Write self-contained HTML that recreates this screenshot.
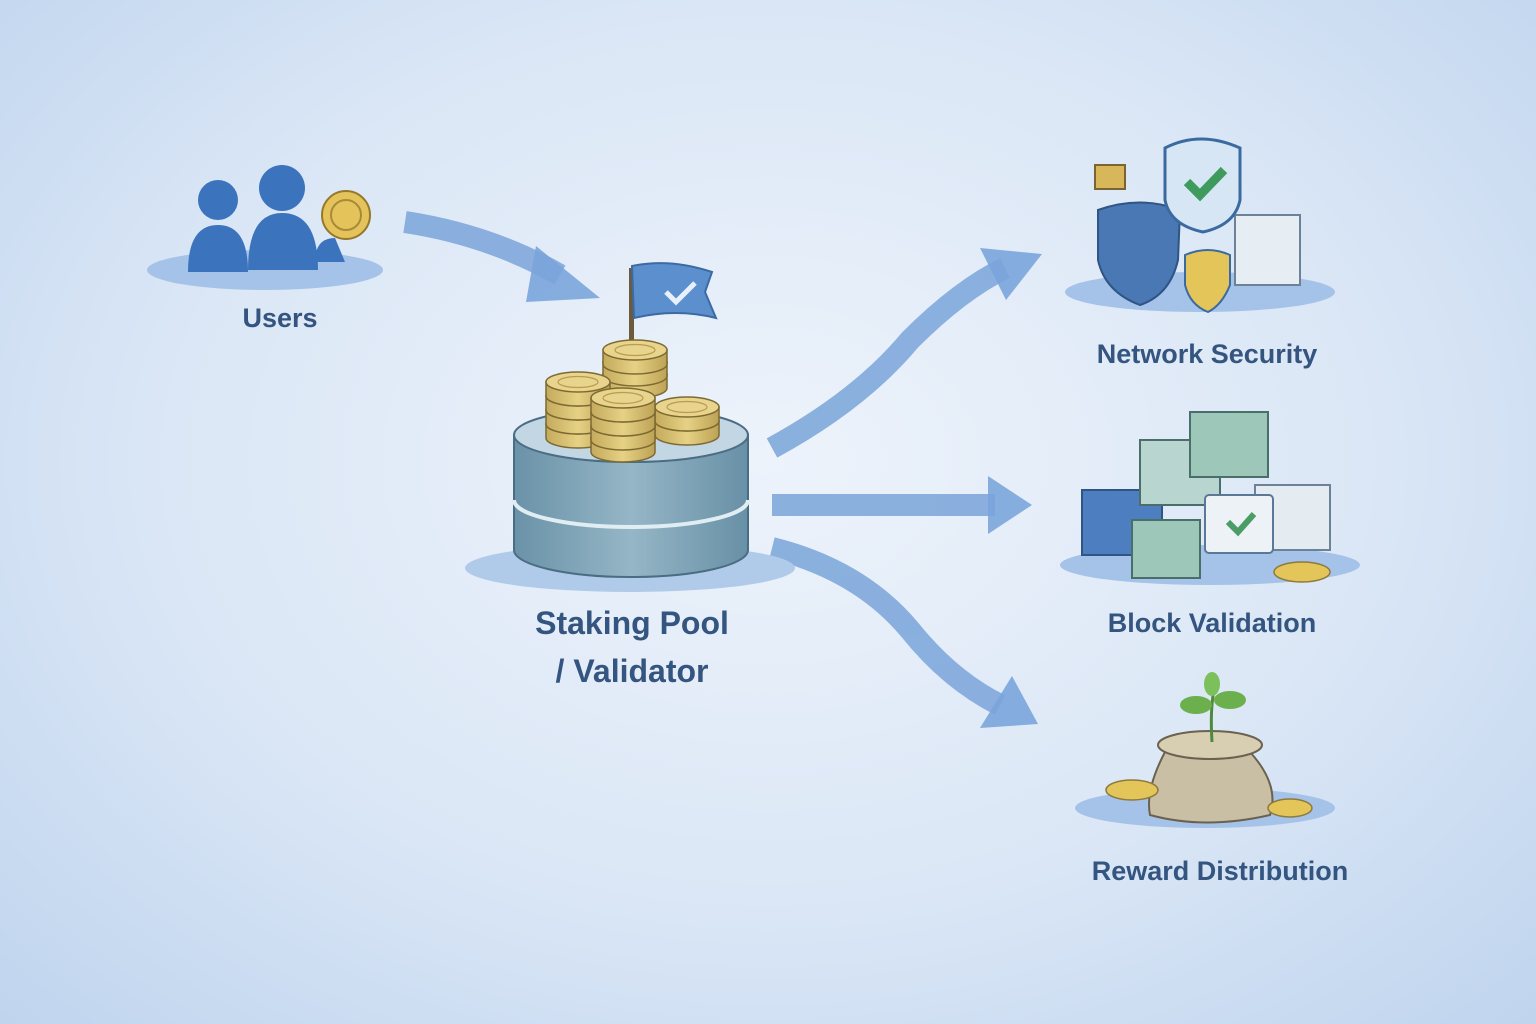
<!DOCTYPE html>
<html><head><meta charset="utf-8"><style>
html,body{margin:0;padding:0;}
body{width:1536px;height:1024px;overflow:hidden;background:radial-gradient(ellipse at 50% 45%,#edf3fb 0%,#dbe7f6 55%,#bfd4ee 100%);font-family:"Liberation Sans",sans-serif;}
svg{position:absolute;left:0;top:0}
</style></head><body>
<svg width="1536" height="1024" viewBox="0 0 1536 1024">
<defs>
<linearGradient id="cyl" x1="0" x2="1"><stop offset="0" stop-color="#6a92a8"/><stop offset="0.5" stop-color="#95b6c6"/><stop offset="1" stop-color="#6890a6"/></linearGradient>
<linearGradient id="coin" x1="0" x2="1"><stop offset="0" stop-color="#c4aa5c"/><stop offset="0.5" stop-color="#e6d184"/><stop offset="1" stop-color="#bda255"/></linearGradient>
<g id="c"><path d="M-32 0 L-32 14 A32 10 0 0 0 32 14 L32 0Z" fill="url(#coin)" stroke="#7d6a32" stroke-width="1.5"/><ellipse cx="0" cy="0" rx="32" ry="10" fill="#e8d48c" stroke="#7d6a32" stroke-width="1.5"/><ellipse cx="0" cy="0" rx="20" ry="5.5" fill="none" stroke="#b89c50" stroke-width="1.2"/></g>
</defs>
<g fill="none" stroke="#7aa5da" stroke-width="22" opacity="0.85">
<path d="M405 222 Q490 235 560 275"/>
<path d="M772 448 Q860 400 910 340 Q960 290 1005 268"/>
<path d="M772 505 L995 505"/>
<path d="M772 548 Q860 570 910 630 Q950 680 1000 705"/>
</g>
<g fill="#7aa5da" opacity="0.9">
<polygon points="536,246 600,298 526,302"/>
<polygon points="980,248 1042,254 1006,300"/>
<polygon points="988,476 1032,505 988,534"/>
<polygon points="980,728 1038,724 1012,676"/>
</g>
<ellipse cx="265" cy="270" rx="118" ry="20" fill="#a5c3e8"/>
<g fill="#3b73bd">
<circle cx="218" cy="200" r="20"/><path d="M188 272 Q188 225 218 225 Q248 225 248 272Z"/>
<circle cx="282" cy="188" r="23"/><path d="M248 270 Q248 213 282 213 Q318 213 318 270Z"/>
<path d="M315 262 Q315 238 335 238 L345 262Z"/>
</g>
<circle cx="346" cy="215" r="24" fill="#e3c35a" stroke="#96782c" stroke-width="2"/>
<circle cx="346" cy="215" r="15" fill="none" stroke="#a88a3a" stroke-width="2"/>
<ellipse cx="630" cy="568" rx="165" ry="24" fill="#b0cbea"/>
<path d="M514 435 L514 550 A117 27 0 0 0 748 550 L748 435Z" fill="url(#cyl)" stroke="#4a6d84" stroke-width="2"/>
<path d="M514 500 A117 27 0 0 0 748 500" fill="none" stroke="#e0edf3" stroke-width="4"/>
<ellipse cx="631" cy="435" rx="117" ry="27" fill="#c2d6e3" stroke="#4a6d84" stroke-width="2"/>
<rect x="629" y="268" width="5" height="75" fill="#6c5a3c"/>
<path d="M632 266 Q670 258 712 272 L705 292 L716 318 Q676 308 634 318Z" fill="#5b8fce" stroke="#3c6aa2" stroke-width="2"/>
<path d="M666 292 L676 302 L695 283" stroke="#e8f0fa" stroke-width="5" fill="none"/>
<use href="#c" x="635" y="374"/><use href="#c" x="635" y="362"/><use href="#c" x="635" y="350"/>
<use href="#c" x="578" y="424"/><use href="#c" x="578" y="410"/><use href="#c" x="578" y="396"/><use href="#c" x="578" y="382"/>
<use href="#c" x="687" y="421"/><use href="#c" x="687" y="407"/>
<use href="#c" x="623" y="438"/><use href="#c" x="623" y="426"/><use href="#c" x="623" y="412"/><use href="#c" x="623" y="398"/>
<ellipse cx="1200" cy="292" rx="135" ry="20" fill="#a5c3e8"/>
<path d="M1098 210 Q1140 195 1180 210 L1178 260 Q1170 295 1140 305 Q1105 292 1098 260Z" fill="#4a78b4" stroke="#2f5585" stroke-width="2"/>
<rect x="1235" y="215" width="65" height="70" fill="#e6edf3" stroke="#6c8298" stroke-width="2"/>
<path d="M1165 148 Q1200 130 1240 148 L1240 200 Q1235 225 1203 232 Q1170 225 1165 200Z" fill="#d6e6f4" stroke="#3b6aa0" stroke-width="3"/>
<path d="M1187 182 L1200 195 L1224 170" stroke="#3f9a5e" stroke-width="9" fill="none"/>
<path d="M1185 255 Q1208 245 1230 255 L1230 285 Q1222 305 1208 312 Q1190 305 1185 285Z" fill="#e3c55a" stroke="#3b6aa0" stroke-width="2"/>
<rect x="1095" y="165" width="30" height="24" fill="#d8b75a" stroke="#7a6532" stroke-width="2"/>
<ellipse cx="1210" cy="565" rx="150" ry="20" fill="#a5c3e8"/>
<rect x="1082" y="490" width="80" height="65" fill="#4c7ec0" stroke="#2f5585" stroke-width="2"/>
<rect x="1140" y="440" width="80" height="65" fill="#b9d5cf" stroke="#4a6f6a" stroke-width="2"/>
<rect x="1190" y="412" width="78" height="65" fill="#9cc7b9" stroke="#4a6f6a" stroke-width="2"/>
<rect x="1255" y="485" width="75" height="65" fill="#e4ebf1" stroke="#6c8298" stroke-width="2"/>
<rect x="1132" y="520" width="68" height="58" fill="#9cc7b9" stroke="#4a6f6a" stroke-width="2"/>
<rect x="1205" y="495" width="68" height="58" rx="4" fill="#edf2f7" stroke="#5b7899" stroke-width="2"/>
<path d="M1228 522 L1238 532 L1254 514" stroke="#4b9d66" stroke-width="6" fill="none"/>
<ellipse cx="1302" cy="572" rx="28" ry="10" fill="#e3c55a" stroke="#8c7a3e" stroke-width="1.5"/>
<ellipse cx="1205" cy="808" rx="130" ry="20" fill="#a5c3e8"/>
<path d="M1165 752 Q1145 790 1150 815 Q1205 830 1270 815 Q1280 785 1250 752Z" fill="#c9bfa4" stroke="#6b6150" stroke-width="2"/>
<ellipse cx="1210" cy="745" rx="52" ry="14" fill="#d8ceb2" stroke="#6b6150" stroke-width="2"/>
<path d="M1212 742 Q1210 710 1214 690" stroke="#4e8a3a" stroke-width="3" fill="none"/>
<ellipse cx="1196" cy="705" rx="16" ry="9" fill="#6cb04e"/><ellipse cx="1230" cy="700" rx="16" ry="9" fill="#6cb04e"/><ellipse cx="1212" cy="684" rx="8" ry="12" fill="#7cc05c"/>
<ellipse cx="1132" cy="790" rx="26" ry="10" fill="#e3c55a" stroke="#8c7a3e" stroke-width="1.5"/>
<ellipse cx="1290" cy="808" rx="22" ry="9" fill="#e3c55a" stroke="#8c7a3e" stroke-width="1.5"/>
<g fill="#34557f" font-family="Liberation Sans, sans-serif" text-anchor="middle" font-weight="bold">
<text x="280" y="327" font-size="27">Users</text>
<text x="632" y="634" font-size="32">Staking Pool</text>
<text x="632" y="682" font-size="32">/ Validator</text>
<text x="1207" y="363" font-size="27">Network Security</text>
<text x="1212" y="632" font-size="27">Block Validation</text>
<text x="1220" y="880" font-size="27">Reward Distribution</text>
</g>
</svg>
</body></html>
